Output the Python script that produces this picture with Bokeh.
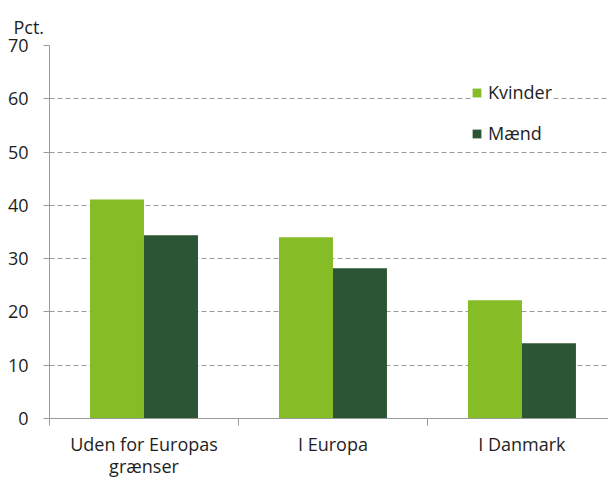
from bokeh.plotting import figure
from bokeh.models import ColumnDataSource, Range1d, FixedTicker, Legend, LegendItem, Title
from bokeh.transform import dodge
from bokeh.embed import file_html
from bokeh.resources import INLINE

categories = ["Uden for Europas\ngrænser", "I Europa", "I Danmark"]
kvinder = [41.1, 34.0, 22.2]
maend = [34.4, 28.2, 14.1]
y_ticks = [0, 10, 20, 30, 40, 50, 60, 70]

FONT = "Open Sans"
TXT = "#1e1e1e"
GRAY = "#9a9a9a"

pos = [i + 0.5 for i in range(len(categories))]
src = ColumnDataSource(dict(x=pos, k=kvinder, m=maend))

p = figure(width=608, height=481, output_backend="svg", toolbar_location=None,
           x_range=Range1d(0, 2.958), y_range=Range1d(0, 70),
           min_border_left=49, min_border_right=0, min_border_top=45, min_border_bottom=61)
p.outline_line_color = None
p.background_fill_color = "white"

bw = 0.2857
rk = p.vbar(x=dodge("x", -bw / 2, range=p.x_range), top="k", width=bw, source=src,
            fill_color="#86bc25", line_color=None)
rm = p.vbar(x=dodge("x", bw / 2, range=p.x_range), top="m", width=bw, source=src,
            fill_color="#2b5535", line_color=None)

# axes
p.xaxis.ticker = FixedTicker(ticks=pos, minor_ticks=[0, 1, 2])
p.xaxis.major_label_overrides = {pos[i]: categories[i] for i in range(len(categories))}
p.xaxis.major_tick_line_color = None
p.xaxis.minor_tick_in = 0
p.xaxis.minor_tick_out = 7
p.xaxis.minor_tick_line_color = GRAY
p.xaxis.axis_line_color = GRAY
p.xaxis.major_label_standoff = 6
p.xaxis.major_label_text_font = FONT
p.xaxis.major_label_text_font_size = "18px"
p.xaxis.major_label_text_color = TXT
p.xaxis.major_label_text_line_height = 0.95

p.yaxis.ticker = FixedTicker(ticks=y_ticks, minor_ticks=[])
p.yaxis.axis_line_color = GRAY
p.yaxis.major_tick_line_color = GRAY
p.yaxis.major_tick_in = 0
p.yaxis.major_tick_out = 6
p.yaxis.major_label_standoff = 15
p.yaxis.major_label_text_font = FONT
p.yaxis.major_label_text_font_size = "18px"
p.yaxis.major_label_text_color = TXT

p.xgrid.grid_line_color = None
p.ygrid.grid_line_color = GRAY
p.ygrid.grid_line_dash = "5 3"
p.ygrid.grid_line_width = 1

p.title = Title(text="Pct.", align="left", offset=-36, text_font=FONT,
                text_font_size="18px", text_font_style="normal", text_color=TXT,
                standoff=14)

legend = Legend(items=[LegendItem(label="Kvinder", renderers=[rk]),
                       LegendItem(label="Mænd", renderers=[rm])],
                location=(422, 273), orientation="vertical",
                glyph_width=11, glyph_height=11, label_height=20, spacing=17,
                label_standoff=6, padding=14, margin=0,
                border_line_color=None, background_fill_color="white", background_fill_alpha=1,
                label_text_font=FONT, label_text_font_size="18px", label_text_color=TXT)
p.add_layout(legend, "center")

open("out.html", "w").write(file_html(p, INLINE))
